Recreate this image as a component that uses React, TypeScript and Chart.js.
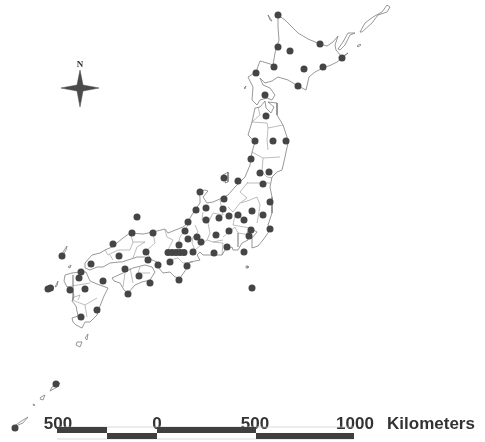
import React, { useEffect, useRef } from "react";
import { Chart, registerables } from "chart.js";

Chart.register(...registerables);

type P = [number, number];

const cityPoints: P[] = [
  [278, 15], [320, 44], [278, 47], [290, 51], [342, 58], [323, 67], [274, 67], [304, 69], [256, 73], [298, 86], [265, 95],
  [266, 116], [255, 141], [273, 141], [286, 141], [251, 159], [260, 173], [269, 172], [224, 178], [238, 181], [263, 184],
  [200, 192], [224, 199], [270, 202], [206, 208], [223, 209], [196, 210], [252, 211], [263, 215], [238, 215], [229, 216],
  [219, 218], [206, 220], [244, 220], [188, 222], [270, 229], [251, 230], [185, 231], [229, 231], [216, 235], [249, 236],
  [197, 237], [188, 239], [201, 242], [179, 245], [227, 247], [244, 252], [214, 253], [193, 252], [168, 252.5], [172, 252.5],
  [176, 252.5], [180, 252.5], [184, 252.5], [187, 266], [179, 280], [252, 288], [170, 262], [137, 217], [132, 233], [153, 233],
  [113, 244], [146, 252], [119, 256], [62, 256], [148, 260], [91, 264], [158, 265], [125, 269], [81, 272], [139, 276],
  [79, 278], [103, 281], [150, 283], [50.5, 288], [48, 289], [85, 289], [70, 290], [128, 294], [97, 310], [81, 317],
  [56, 384], [15, 428],
];

const hokkaido: P[] = [
  [278, 15], [285, 20], [290, 25], [298, 33], [308, 39], [320, 44], [327, 46], [333, 42], [338, 36], [335, 45], [336, 50], [342, 57],
  [348, 53], [342, 58], [337, 62], [331, 65], [323, 68], [315, 72], [309, 77], [306, 90], [298, 86], [288, 80], [278, 77], [272, 81],
  [265, 83], [260, 78], [263, 85], [270, 88], [275, 95], [272, 100], [267, 98], [260, 100], [257, 105], [252, 100], [253, 87], [248, 77],
  [256, 72], [260, 61], [267, 63], [273, 65], [275, 53], [279, 40], [278, 27], [278, 15],
];
const honshu: P[] = [
  [255, 108], [260, 107], [265, 101], [266, 108], [271, 113], [274, 107], [268, 102], [277, 103], [277, 115], [283, 125], [288, 140],
  [288, 143], [285, 157], [282, 170], [277, 172], [272, 177], [270, 187], [272, 197], [272, 213], [268, 225], [270, 230], [263, 240],
  [258, 246], [252, 248], [252, 238], [257, 232], [250, 228], [247, 233], [248, 240], [242, 243], [238, 250], [233, 250], [232, 247],
  [225, 250], [222, 255], [215, 255], [203, 255], [200, 252], [197, 255], [200, 260], [190, 262], [187, 268], [180, 278], [175, 277],
  [170, 272], [163, 273], [158, 267], [157, 262], [145, 257], [137, 257], [122, 262], [119, 262], [110, 263], [103, 267], [97, 267],
  [90, 270], [85, 268], [85, 263], [92, 255], [100, 253], [105, 250], [112, 247], [123, 238], [130, 233], [143, 234], [153, 232],
  [165, 229], [168, 233], [178, 229], [183, 227], [188, 223], [190, 218], [195, 210], [200, 203], [200, 197], [198, 192], [205, 190],
  [208, 191], [203, 197], [207, 203], [213, 202], [222, 198], [228, 195], [235, 187], [245, 177], [250, 165], [252, 152], [255, 142],
  [248, 135], [252, 122], [255, 108],
];
const shikoku: P[] = [
  [112, 278], [125, 272], [133, 268], [145, 265], [152, 267], [155, 272], [150, 280], [142, 282], [135, 285], [128, 293], [124, 290],
  [120, 283], [114, 281], [112, 278],
];
const kyushu: P[] = [
  [65, 275], [72, 273], [80, 272], [86, 272], [90, 281], [97, 284], [108, 288], [104, 296], [100, 306], [97, 315], [90, 322], [85, 322],
  [82, 328], [76, 325], [73, 322], [72, 318], [78, 316], [76, 306], [72, 301], [74, 296], [72, 288], [67, 287], [64, 281], [65, 275],
];
const kunashiri: P[] = [[338, 49], [343, 42], [348, 33], [355, 33], [350, 35], [345, 45], [340, 50], [338, 49]];
const etorofu: P[] = [[360, 32], [365, 23], [373, 17], [382, 12], [387, 5], [390, 7], [387, 12], [378, 15], [372, 23], [362, 32], [360, 32]];
const shikotan: P[] = [[357, 46], [360, 44], [361, 45], [358, 47], [357, 46]];
const rishiri: P[] = [[268, 15], [272, 21], [270, 20], [268, 15]];
const okushiri: P[] = [[244, 88], [246, 86], [245, 89], [244, 88]];
const sado: P[] = [[223, 175], [228, 172], [228, 182], [225, 183], [226, 178], [223, 175]];
const tsushima: P[] = [[63, 252], [67, 246], [66, 250], [62, 257], [63, 252]];
const iki: P[] = [[68, 267], [71, 265], [70, 268], [68, 267]];
const goto: P[] = [[55, 287], [58, 281], [57, 286], [55, 287]];
const tanegashima: P[] = [[85, 338], [88, 334], [87, 340], [85, 338]];
const yakushima: P[] = [[77, 342], [82, 342], [80, 347], [76, 345], [77, 342]];
const okinawaA: P[] = [[52, 387], [55, 385], [60, 383], [57, 387], [50, 391], [52, 387]];
const okinawaB: P[] = [[41, 397], [45, 395], [43, 400], [40, 399], [41, 397]];
const okinawaC: P[] = [[33, 404], [35, 405], [34, 406], [33, 404]];
const okinawaD: P[] = [[13, 427], [20, 422], [28, 417], [23, 423], [18, 425], [15, 430], [13, 427]];
const izuIsland: P[] = [[246, 266], [248, 266], [248, 268], [246, 268], [246, 266]];

const borders: P[][] = [
  [[252, 152], [263, 158], [280, 157]],
  [[263, 158], [262, 172], [267, 177], [272, 178]],
  [[248, 182], [240, 192], [247, 198], [240, 203], [233, 212], [228, 207]],
  [[247, 183], [260, 183], [265, 183], [270, 183]],
  [[241, 203], [250, 200], [257, 197], [260, 205], [259, 212], [257, 223]],
  [[220, 200], [223, 215], [213, 213], [208, 223], [210, 233], [207, 240], [213, 242], [223, 240]],
  [[235, 215], [233, 225], [250, 228]],
  [[223, 237], [235, 227], [238, 233], [250, 235]],
  [[238, 233], [238, 247]],
  [[213, 242], [223, 243], [222, 255]],
  [[195, 225], [198, 232], [193, 237], [192, 243], [195, 250]],
  [[188, 225], [180, 237], [177, 250]],
  [[203, 212], [202, 220], [210, 218]],
  [[195, 250], [207, 240]],
  [[170, 260], [178, 258], [183, 263], [193, 262]],
  [[170, 250], [183, 250]],
  [[130, 233], [133, 242], [145, 242], [137, 247], [133, 258]],
  [[153, 233], [155, 243], [145, 252], [150, 257]],
  [[165, 230], [167, 237], [173, 240], [168, 250]],
  [[105, 250], [108, 255], [118, 250], [130, 250], [133, 242]],
  [[113, 260], [110, 255]],
  [[130, 268], [133, 283]],
  [[140, 267], [138, 273], [150, 273]],
  [[125, 273], [123, 287]],
  [[73, 275], [73, 290], [73, 300]],
  [[67, 287], [78, 285], [90, 283]],
  [[72, 300], [85, 305], [97, 298]],
  [[85, 305], [87, 317]],
  [[72, 298], [80, 295], [78, 300]],
  [[252, 122], [267, 123], [268, 128], [283, 125]],
  [[268, 128], [267, 140], [268, 150]],
  [[258, 107], [260, 115], [252, 122]],
];

const compassStar: P[] = [[80, 70], [83, 85], [99, 88], [83, 91], [80, 107], [77, 91], [61, 88], [77, 85], [80, 70]];

const scaleDark: P[][] = [
  [[57, 430], [107, 430]],
  [[157, 430], [256, 430]],
  [[107, 436], [157, 436]],
  [[256, 436], [354, 436]],
];
const scaleFrame: P[][] = [
  [[57, 427], [354, 427]],
  [[57, 439], [354, 439]],
];

const scaleTickValues = [58, 157, 255, 355, 431];
const scaleTickLabels = ["500", "0", "500", "1000", "Kilometers"];
const northTickValues = [80];
const northTickLabels = ["N"];

const coastlines: P[][] = [
  hokkaido, honshu, shikoku, kyushu, kunashiri, etorofu, shikotan, rishiri, okushiri, sado, tsushima, iki, goto,
  tanegashima, yakushima, okinawaA, okinawaB, okinawaC, okinawaD, izuIsland,
];

const toXY = (pts: P[]) => pts.map(([x, y]) => ({ x, y }));

export default function App() {
  const ref = useRef<HTMLCanvasElement>(null);

  useEffect(() => {
    const line = (pts: P[], color: string, width: number) => ({
      data: toXY(pts),
      showLine: true,
      borderColor: color,
      borderWidth: width,
      borderCapStyle: "butt" as const,
      pointRadius: 0,
      tension: 0,
      fill: false,
    });
    const datasets: any[] = [
      {
        label: "Stations",
        data: toXY(cityPoints),
        showLine: false,
        pointRadius: 3.5,
        pointBackgroundColor: "#454545",
        pointBorderWidth: 0,
      },
      {
        label: "Compass",
        data: toXY(compassStar),
        showLine: true,
        borderColor: "#4a4a4a",
        borderWidth: 0.5,
        backgroundColor: "#4a4a4a",
        fill: "shape",
        pointRadius: 0,
        tension: 0,
      },
      ...scaleDark.map((s) => line(s, "#3f3f3f", 6)),
      ...scaleFrame.map((s) => line(s, "#c8c8c8", 0.7)),
      ...coastlines.map((s) => line(s, "#777777", 0.75)),
      ...borders.map((s) => line(s, "#999999", 0.65)),
    ];
    const chart = new Chart(ref.current!, {
      type: "scatter",
      data: { datasets },
      options: {
        animation: false,
        responsive: false,
        events: [],
        layout: { padding: 0, autoPadding: false },
        plugins: { legend: { display: false }, tooltip: { enabled: false } },
        scales: {
          x: {
            type: "linear",
            min: 0,
            max: 485,
            position: { y: 412 },
            grid: { display: false, drawTicks: false },
            border: { display: false },
            afterBuildTicks: (s: any) => {
              s.ticks = scaleTickValues.map((value) => ({ value }));
            },
            ticks: {
              autoSkip: false,
              maxRotation: 0,
              minRotation: 0,
              padding: 2,
              color: "#333333",
              font: { family: "Liberation Sans", weight: "bold", size: 17 },
              callback: (v: any) => scaleTickLabels[scaleTickValues.indexOf(Number(v))] ?? "",
            },
          },
          x2: {
            type: "linear",
            axis: "x",
            min: 0,
            max: 485,
            position: { y: 57 },
            grid: { display: false, drawTicks: false },
            border: { display: false },
            afterBuildTicks: (s: any) => {
              s.ticks = northTickValues.map((value) => ({ value }));
            },
            ticks: {
              autoSkip: false,
              maxRotation: 0,
              minRotation: 0,
              padding: 2,
              color: "#333333",
              font: { family: "Liberation Serif", weight: "bold", size: 9 },
              callback: (v: any) => northTickLabels[northTickValues.indexOf(Number(v))] ?? "",
            },
          },
          y: { type: "linear", display: false, reverse: true, min: 0, max: 442 },
        },
      } as any,
    });
    return () => chart.destroy();
  }, []);

  return (
    <div style={{ position: "fixed", left: 0, top: 0, width: 485, height: 442, background: "#fff" }}>
      <canvas ref={ref} width={485} height={442} style={{ display: "block", filter: "blur(0.35px)" }} />
    </div>
  );
}
